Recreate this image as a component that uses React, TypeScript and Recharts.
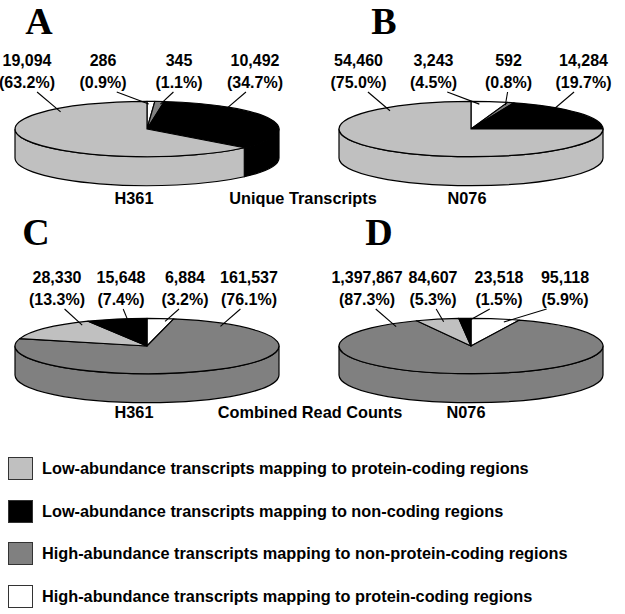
import React from "react";
import { PieChart, Pie, Legend } from "recharts";

const categoryKeys = ["lowCoding", "lowNonCoding", "highNonCoding", "highCoding"];
const categoryLabels = [
  "Low-abundance transcripts mapping to protein-coding regions",
  "Low-abundance transcripts mapping to non-coding regions",
  "High-abundance transcripts mapping to non-protein-coding regions",
  "High-abundance transcripts mapping to protein-coding regions",
];
const panelLetters = ["A", "B", "C", "D"];
const sampleNames = ["H361", "N076"];
const measureTitles = ["Unique Transcripts", "Combined Read Counts"];

// slices are listed clockwise, starting at 12 o'clock
const uniqueH361 = [
  { cat: "highCoding", value: 286 },
  { cat: "highNonCoding", value: 345 },
  { cat: "lowNonCoding", value: 10492 },
  { cat: "lowCoding", value: 19094 },
];
const uniqueN076 = [
  { cat: "highCoding", value: 3243 },
  { cat: "highNonCoding", value: 592 },
  { cat: "lowNonCoding", value: 14284 },
  { cat: "lowCoding", value: 54460 },
];
const readsH361 = [
  { cat: "highCoding", value: 6884 },
  { cat: "highNonCoding", value: 161537 },
  { cat: "lowCoding", value: 28330 },
  { cat: "lowNonCoding", value: 15648 },
];
const readsN076 = [
  { cat: "highCoding", value: 95118 },
  { cat: "highNonCoding", value: 1397867 },
  { cat: "lowCoding", value: 84607 },
  { cat: "lowNonCoding", value: 23518 },
];

// left-to-right order of the number callouts above each pie
const calloutsUniqueH361 = ["lowCoding", "highCoding", "highNonCoding", "lowNonCoding"];
const calloutsUniqueN076 = ["lowCoding", "highCoding", "highNonCoding", "lowNonCoding"];
const calloutsReadsH361 = ["lowCoding", "lowNonCoding", "highCoding", "highNonCoding"];
const calloutsReadsN076 = ["highNonCoding", "lowCoding", "lowNonCoding", "highCoding"];

const colors: Record<string, string> = {
  lowCoding: "#c0c0c0",
  lowNonCoding: "#000000",
  highNonCoding: "#808080",
  highCoding: "#ffffff",
};

const SANS = '"Liberation Sans", Arial, Helvetica, sans-serif';
const SERIF = '"Liberation Serif", "Times New Roman", serif';
const RAD = Math.PI / 180;
const RADIUS = 132;
const TILT = 0.21; // vertical squash of the pie disc
const DEPTH = 29;

const panels = [
  { id: "A", data: uniqueH361, order: calloutsUniqueH361, cx: 147, cy: 129, spread: 76, shift: -6 },
  { id: "B", data: uniqueN076, order: calloutsUniqueN076, cx: 471, cy: 129, spread: 75, shift: 0 },
  { id: "C", data: readsH361, order: calloutsReadsH361, cx: 147, cy: 346, spread: 64, shift: 6 },
  { id: "D", data: readsN076, order: calloutsReadsN076, cx: 471, cy: 346, spread: 66, shift: -5 },
];

type Panel = (typeof panels)[number];

function ellipsePoint(cx: number, cy: number, rx: number, ry: number, deg: number, dy = 0) {
  return `${cx + rx * Math.cos(deg * RAD)},${cy - ry * Math.sin(deg * RAD) + dy}`;
}

// draws one slice as a tilted 3D wedge (top face plus its visible front wall)
function renderBody(props: any) {
  const { cx, cy, outerRadius, startAngle: s, endAngle: e, index } = props;
  const cat = props.cat ?? props.payload?.cat;
  const rx = outerRadius;
  const ry = rx * TILT;
  const p = (deg: number, dy = 0) => ellipsePoint(cx, cy, rx, ry, deg, dy);
  const a = Math.min(s, 0);
  const b = Math.max(e, -180);
  const fill = colors[cat];
  const top = `M${cx},${cy} L${p(s)} A${rx},${ry} 0 ${s - e > 180 ? 1 : 0} 1 ${p(e)} Z`;
  return (
    <g key={`body-${index}`}>
      {a - b > 0.01 && (
        <path
          d={`M${p(a)} A${rx},${ry} 0 0 1 ${p(b)} L${p(b, DEPTH)} A${rx},${ry} 0 0 0 ${p(a, DEPTH)} Z`}
          fill={fill}
          stroke="#000"
          strokeWidth={1.2}
          strokeLinejoin="round"
        />
      )}
      <path d={top} fill={fill} stroke="#000" strokeWidth={1.2} strokeLinejoin="round" />
    </g>
  );
}

function circDist(a: number, b: number) {
  return Math.abs(((((a - b) % 360) + 540) % 360) - 180);
}

function makeCallout(panel: Panel) {
  return (props: any) => {
    const { cx, cy, outerRadius, startAngle, endAngle, value, percent, index } = props;
    const cat = props.cat ?? props.payload?.cat;
    const rx = outerRadius;
    const ry = rx * TILT;
    const slot = panel.order.indexOf(cat);
    const lx = cx + panel.shift + (slot - 1.5) * panel.spread;

    // pick a point inside the slice, leaning toward the callout text
    const cs = 90 - startAngle;
    const ce = 90 - endAngle;
    const pad = Math.min(6, (ce - cs) * 0.25);
    const lo = cs + pad;
    const hi = ce - pad;
    const d = Math.asin(Math.max(-1, Math.min(1, (0.8 * (lx - cx)) / rx))) / RAD;
    let theta = [d - 360, d, d + 360].find((c) => c >= lo && c <= hi);
    if (theta === undefined) theta = circDist(d, lo) <= circDist(d, hi) ? lo : hi;
    const ax = cx + 0.9 * rx * Math.sin(theta * RAD);
    const ay = cy - 0.9 * ry * Math.cos(theta * RAD);

    return (
      <g key={`callout-${index}`}>
        <line x1={lx + (ax - lx) * 0.3} y1={cy - 37} x2={ax} y2={ay} stroke="#000" strokeWidth={1.1} />
        <text x={lx} y={cy - 63} textAnchor="middle" fontSize={16} fontWeight="bold" fontFamily={SANS} fill="#000">
          {Number(value).toLocaleString("en-US")}
        </text>
        <text x={lx} y={cy - 41} textAnchor="middle" fontSize={16} fontWeight="bold" fontFamily={SANS} fill="#000">
          {`(${(percent * 100).toFixed(1)}%)`}
        </text>
      </g>
    );
  };
}

const renderLegend = () => (
  <div style={{ fontFamily: SANS, fontWeight: "bold", fontSize: 16.3, color: "#000" }}>
    {categoryKeys.map((k, i) => (
      <div key={k} style={{ display: "flex", alignItems: "center", height: 42.8 }}>
        <span
          style={{
            display: "inline-block",
            width: 25,
            height: 23,
            marginLeft: 8,
            boxSizing: "border-box",
            border: "1.5px solid #333",
            background: colors[k],
          }}
        />
        <span style={{ marginLeft: 9, whiteSpace: "nowrap" }}>{categoryLabels[i]}</span>
      </div>
    ))}
  </div>
);

export default function App() {
  const captionStyle = { fontFamily: SANS, fontWeight: "bold" as const, fontSize: 16.3 };
  const letterStyle = { fontFamily: SERIF, fontWeight: "bold" as const, fontSize: 38 };
  return (
    <div style={{ position: "absolute", left: 0, top: 0, width: 625, height: 614, background: "#fff" }}>
      <PieChart width={625} height={614} margin={{ top: 0, right: 0, bottom: 0, left: 0 }}>
        {panels.map((p) => (
          <Pie
            key={`body-${p.id}`}
            data={p.data}
            dataKey="value"
            nameKey="cat"
            cx={p.cx}
            cy={p.cy}
            outerRadius={RADIUS}
            startAngle={90}
            endAngle={-270}
            fill="transparent"
            stroke="none"
            labelLine={false}
            label={renderBody}
            isAnimationActive={false}
          />
        ))}
        {panels.map((p) => (
          <Pie
            key={`callout-${p.id}`}
            data={p.data}
            dataKey="value"
            nameKey="cat"
            cx={p.cx}
            cy={p.cy}
            outerRadius={RADIUS}
            startAngle={90}
            endAngle={-270}
            fill="transparent"
            stroke="none"
            labelLine={false}
            label={makeCallout(p)}
            isAnimationActive={false}
          />
        ))}
        <Legend content={renderLegend} wrapperStyle={{ left: 0, top: 447, bottom: "auto", width: 625 }} />
      </PieChart>
      <svg width={625} height={614} style={{ position: "absolute", left: 0, top: 0, pointerEvents: "none" }}>
        <text x={39} y={34} textAnchor="middle" {...letterStyle}>{panelLetters[0]}</text>
        <text x={384} y={34} textAnchor="middle" {...letterStyle}>{panelLetters[1]}</text>
        <text x={36} y={245} textAnchor="middle" {...letterStyle}>{panelLetters[2]}</text>
        <text x={379} y={245} textAnchor="middle" {...letterStyle}>{panelLetters[3]}</text>
        <text x={134} y={203.5} textAnchor="middle" {...captionStyle}>{sampleNames[0]}</text>
        <text x={303} y={203.5} textAnchor="middle" {...captionStyle}>{measureTitles[0]}</text>
        <text x={467} y={203.5} textAnchor="middle" {...captionStyle}>{sampleNames[1]}</text>
        <text x={134} y={418} textAnchor="middle" {...captionStyle}>{sampleNames[0]}</text>
        <text x={310} y={418} textAnchor="middle" {...captionStyle}>{measureTitles[1]}</text>
        <text x={466} y={418} textAnchor="middle" {...captionStyle}>{sampleNames[1]}</text>
      </svg>
    </div>
  );
}
